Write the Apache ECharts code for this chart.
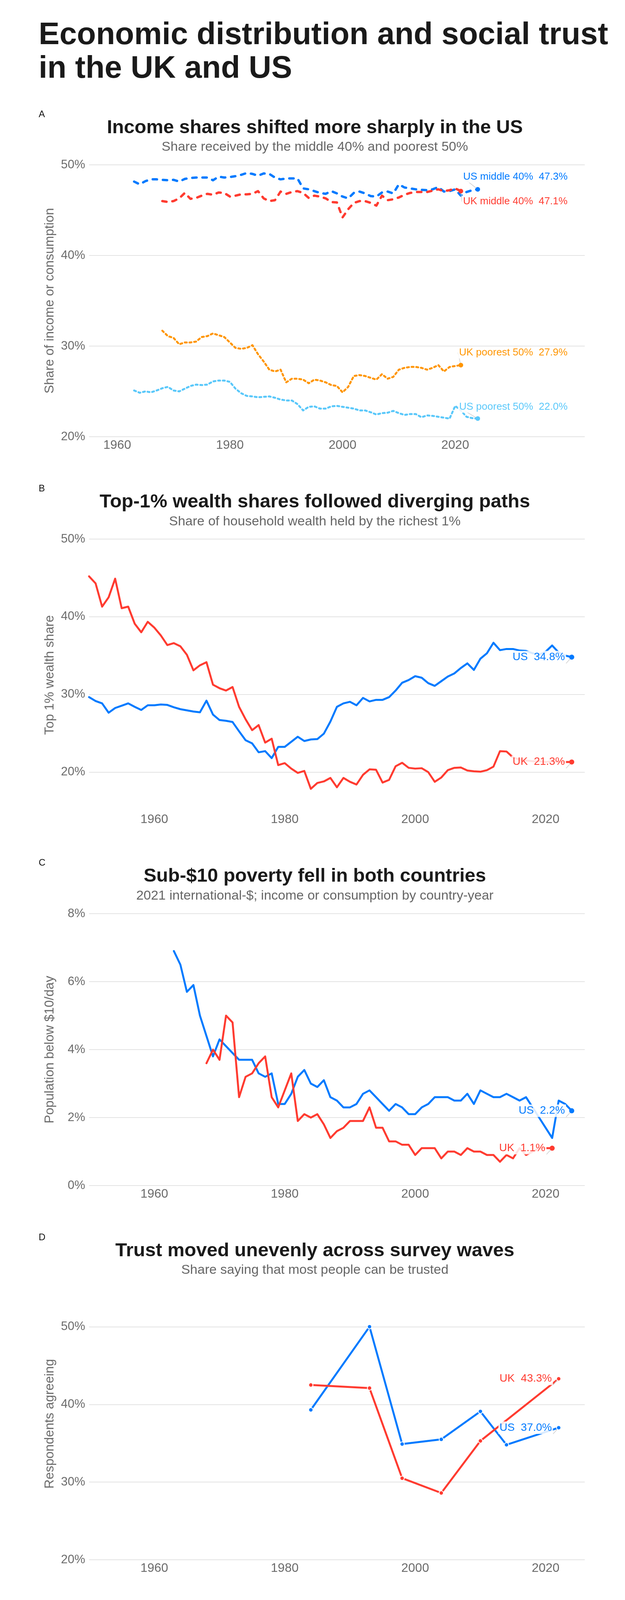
<!DOCTYPE html>
<html lang="en">
<head>
<meta charset="UTF-8">
<title>Economic distribution and social trust in the UK and US</title>
<style>
  html, body { margin: 0; padding: 0; background: #fff; }
  #chart { width: 1600px; height: 4200px; }
</style>
</head>
<body>
<div id="chart"></div>
<script src="https://cdn.jsdelivr.net/npm/echarts@6/dist/echarts.min.js"></script>
<script>
// ---- data ----
// A: income shares (%), annual
var usMiddleStart = 1963;
var usMiddle40 = [48.15, 47.85, 48.2, 48.4, 48.4, 48.35, 48.3, 48.35, 48.15, 48.45,
  48.55, 48.6, 48.6, 48.6, 48.3, 48.7, 48.6, 48.65, 48.75, 48.9,
  49.1, 49.0, 48.8, 49.05, 49.0, 48.6, 48.4, 48.5, 48.5, 48.5,
  47.4, 47.3, 47.1, 46.9, 46.8, 47.1, 46.85, 46.5, 46.3, 46.9,
  47.05, 46.85, 46.55, 46.5, 46.95, 47.05, 46.85, 47.85, 47.5, 47.4,
  47.3, 47.25, 47.2, 47.3, 47.55, 47.05, 47.1, 47.3, 46.6, 47.0,
  47.2, 47.3];
var ukMiddleStart = 1968;
var ukMiddle40 = [46.0, 45.9, 46.0, 46.3, 46.9, 46.25, 46.35, 46.6, 46.8, 46.7,
  46.95, 46.9, 46.5, 46.6, 46.75, 46.75, 46.8, 47.1, 46.3, 46.0,
  46.1, 47.05, 46.8, 47.0, 47.1, 46.9, 46.35, 46.6, 46.5, 46.3,
  45.9, 45.85, 44.2, 45.1, 45.8, 46.0, 46.0, 45.8, 45.5, 46.6,
  46.1, 46.2, 46.4, 46.7, 46.9, 47.0, 47.0, 47.0, 47.15, 47.3,
  47.1, 47.2, 47.4, 47.1];
var ukPoorestStart = 1968;
var ukPoorest50 = [31.7, 31.1, 30.9, 30.2, 30.4, 30.4, 30.5, 31.0, 31.1, 31.4,
  31.2, 31.0, 30.4, 29.8, 29.7, 29.8, 30.1, 29.1, 28.3, 27.4,
  27.2, 27.4, 26.0, 26.4, 26.4, 26.3, 25.9, 26.3, 26.2, 26.0,
  25.7, 25.6, 24.9, 25.5, 26.7, 26.8, 26.7, 26.5, 26.3, 26.9,
  26.4, 26.6, 27.4, 27.6, 27.7, 27.7, 27.6, 27.4, 27.6, 27.9,
  27.2, 27.7, 27.8, 27.9];
var usPoorestStart = 1963;
var usPoorest50 = [25.1, 24.85, 25.0, 24.9, 25.1, 25.35, 25.5, 25.1, 25.0, 25.3,
  25.6, 25.75, 25.7, 25.75, 26.1, 26.2, 26.2, 26.05, 25.3, 24.8,
  24.5, 24.45, 24.35, 24.4, 24.45, 24.3, 24.1, 24.0, 24.0, 23.6,
  22.9, 23.3, 23.35, 23.1, 23.1, 23.35, 23.4, 23.3, 23.2, 23.1,
  22.9, 22.9, 22.7, 22.45, 22.6, 22.65, 22.85, 22.6, 22.4, 22.5,
  22.5, 22.15, 22.35, 22.3, 22.2, 22.1, 22.0, 23.4, 22.9, 22.2,
  22.05, 22.0];

// B: top 1% wealth share (%), annual from 1950
var wealthStart = 1950;
var ukTop1 = [45.2, 44.3, 41.3, 42.5, 44.9, 41.1, 41.3, 39.1, 38.0, 39.35,
  38.6, 37.6, 36.35, 36.6, 36.2, 35.1, 33.1, 33.75, 34.15, 31.25,
  30.8, 30.5, 30.95, 28.4, 26.8, 25.4, 26.05, 23.8, 24.3, 20.9,
  21.15, 20.45, 19.9, 20.15, 17.85, 18.6, 18.8, 19.25, 18.05, 19.25,
  18.75, 18.4, 19.65, 20.35, 20.3, 18.65, 19.0, 20.75, 21.2, 20.55,
  20.45, 20.5, 20.0, 18.75, 19.3, 20.25, 20.55, 20.6, 20.2, 20.1,
  20.05, 20.25, 20.7, 22.7, 22.65, 21.9, 21.6, 21.5, 21.4, 21.4,
  21.3, 21.4, 21.3, 21.3, 21.3];
var usTop1 = [29.65, 29.15, 28.85, 27.65, 28.25, 28.55, 28.85, 28.4, 28.0, 28.6,
  28.6, 28.7, 28.65, 28.35, 28.1, 27.95, 27.8, 27.7, 29.2, 27.4,
  26.7, 26.6, 26.45, 25.25, 24.1, 23.7, 22.55, 22.7, 21.8, 23.25,
  23.25, 23.9, 24.55, 24.0, 24.2, 24.25, 24.95, 26.5, 28.4, 28.85,
  29.05, 28.6, 29.55, 29.1, 29.3, 29.3, 29.65, 30.5, 31.5, 31.85,
  32.35, 32.15, 31.45, 31.1, 31.7, 32.3, 32.7, 33.4, 34.0, 33.15,
  34.6, 35.3, 36.65, 35.7, 35.85, 35.85, 35.65, 35.6, 35.3, 35.1,
  35.5, 36.3, 35.4, 35.0, 34.8];

// C: population below $10/day (%), annual
var usPovStart = 1963;
var usPoverty = [6.9, 6.5, 5.7, 5.9, 5.0, 4.4, 3.8, 4.3, 4.1, 3.9,
  3.7, 3.7, 3.7, 3.3, 3.2, 3.3, 2.4, 2.4, 2.7, 3.2,
  3.4, 3.0, 2.9, 3.1, 2.6, 2.5, 2.3, 2.3, 2.4, 2.7,
  2.8, 2.6, 2.4, 2.2, 2.4, 2.3, 2.1, 2.1, 2.3, 2.4,
  2.6, 2.6, 2.6, 2.5, 2.5, 2.7, 2.4, 2.8, 2.7, 2.6,
  2.6, 2.7, 2.6, 2.5, 2.6, 2.3, 2.0, 1.7, 1.4, 2.5,
  2.4, 2.2];
var ukPovStart = 1968;
var ukPoverty = [3.6, 4.0, 3.7, 5.0, 4.8, 2.6, 3.2, 3.3, 3.6, 3.8,
  2.6, 2.3, 2.8, 3.3, 1.9, 2.1, 2.0, 2.1, 1.8, 1.4,
  1.6, 1.7, 1.9, 1.9, 1.9, 2.3, 1.7, 1.7, 1.3, 1.3,
  1.2, 1.2, 0.9, 1.1, 1.1, 1.1, 0.8, 1.0, 1.0, 0.9,
  1.1, 1.0, 1.0, 0.9, 0.9, 0.7, 0.9, 0.8, 1.1, 0.9,
  1.0, 1.1, 1.1, 1.1];

// D: trust survey waves (%)
var usTrustYears = [1984, 1993, 1998, 2004, 2010, 2014, 2022];
var usTrust = [39.3, 50.0, 34.9, 35.5, 39.1, 34.8, 37.0];
var ukTrustYears = [1984, 1993, 1998, 2004, 2010, 2022];
var ukTrust = [42.5, 42.1, 30.5, 28.6, 35.3, 43.3];

// ---- styling ----
var FONT = '"Liberation Sans", Arial, sans-serif';
var BLUE = '#007AFF', RED = '#FF3B30', ORANGE = '#FF9500', SKY = '#5AC8FA';
var GREY = '#6b6b6b', GRID = '#dadada';
var LEFT = 228, WIDTH = 1269, HEIGHT = 696;
var tops = [422, 1380, 2339, 3297];

function annual(start, vals) {
  return vals.map(function (v, i) { return [start + i, v]; });
}
function paired(years, vals) {
  return vals.map(function (v, i) { return [years[i], v]; });
}
function pct(v) { return v + '%'; }

// put the end dot + label on the last point
function endLabel(data, text, color, lab, size) {
  var last = data[data.length - 1];
  data[data.length - 1] = {
    value: last,
    symbol: 'circle',
    symbolSize: size || 13,
    label: Object.assign({
      show: true, formatter: text, color: color, fontFamily: FONT,
      backgroundColor: 'rgba(255,255,255,0.85)', padding: [2, 3]
    }, lab)
  };
  return data;
}
// label style used by panels A
function repel(dx, dy) {
  return { position: 'inside', align: 'right', verticalAlign: 'middle', offset: [dx, dy], fontSize: 26 };
}
var sideLabel = { position: 'left', distance: 8, fontSize: 28 };

function xAxisFor(i, min, max, interval) {
  return {
    type: 'value', gridIndex: i, min: min, max: max, interval: interval,
    axisLine: { show: false }, axisTick: { show: false }, splitLine: { show: false },
    axisLabel: {
      color: GREY, fontSize: 32, fontFamily: FONT, margin: 6,
      formatter: function (v) { return (v % 20 === 0 && v >= 1960 && v <= 2020) ? String(v) : ''; }
    }
  };
}
function yAxisFor(i, name, min, max, interval, lineColors, labelFn) {
  return {
    type: 'value', gridIndex: i, min: min, max: max, interval: interval,
    name: name, nameLocation: 'middle', nameGap: 84,
    nameTextStyle: { color: GREY, fontSize: 33, fontFamily: FONT },
    axisLine: { show: false }, axisTick: { show: false },
    splitLine: { show: true, lineStyle: { color: lineColors, width: 1.5 } },
    axisLabel: { color: GREY, fontSize: 31, fontFamily: FONT, margin: 10, formatter: labelFn }
  };
}
function lineSeries(i, data, color, width, dash) {
  return {
    type: 'line', xAxisIndex: i, yAxisIndex: i, data: data,
    symbol: 'none', showSymbol: true, silent: true,
    itemStyle: { color: color },
    lineStyle: { color: color, width: width, type: dash || 'solid', cap: 'round', join: 'round' },
    labelLine: { show: true, lineStyle: { color: '#cccccc', width: 1.5 } }
  };
}

var series = [
  // A
  lineSeries(0, endLabel(annual(usMiddleStart, usMiddle40), 'US middle 40%  47.3%', BLUE, repel(233, -32), 12), BLUE, 6, [11, 15]),
  lineSeries(0, endLabel(annual(ukMiddleStart, ukMiddle40), 'UK middle 40%  47.1%', RED, repel(276, 27), 12), RED, 6, [11, 15]),
  lineSeries(0, endLabel(annual(ukPoorestStart, ukPoorest50), 'UK poorest 50%  27.9%', ORANGE, repel(276, -32), 12), ORANGE, 5, [5, 7]),
  lineSeries(0, endLabel(annual(usPoorestStart, usPoorest50), 'US poorest 50%  22.0%', SKY, repel(233, -30), 12), SKY, 5, [5, 7]),
  // B
  lineSeries(1, endLabel(annual(wealthStart, usTop1), 'US  34.8%', BLUE, sideLabel), BLUE, 5),
  lineSeries(1, endLabel(annual(wealthStart, ukTop1), 'UK  21.3%', RED, sideLabel), RED, 5),
  // C
  lineSeries(2, endLabel(annual(usPovStart, usPoverty), 'US  2.2%', BLUE, sideLabel), BLUE, 5),
  lineSeries(2, endLabel(annual(ukPovStart, ukPoverty), 'UK  1.1%', RED, sideLabel), RED, 5)
];
// D: every wave gets a dot
[[usTrustYears, usTrust, BLUE, 'US  37.0%'], [ukTrustYears, ukTrust, RED, 'UK  43.3%']].forEach(function (d) {
  var s = lineSeries(3, endLabel(paired(d[0], d[1]), d[3], d[2], sideLabel, 11), d[2], 5);
  s.symbol = 'circle';
  s.symbolSize = 11;
  s.itemStyle = { color: d[2], borderColor: '#fff', borderWidth: 2 };
  series.push(s);
});

function txt(x, y, text, font, fill, align) {
  return {
    type: 'text', x: x, y: y, silent: true,
    style: { text: text, font: font, fill: fill, textAlign: align || 'left', align: align || 'left',
      textVerticalAlign: 'middle', verticalAlign: 'middle' }
  };
}
var TITLE_X = 806;
var graphics = [
  txt(99, 91, 'Economic distribution and social trust', 'bold 80px ' + FONT, '#1a1a1a'),
  txt(99, 177, 'in the UK and US', 'bold 80px ' + FONT, '#1a1a1a'),
  txt(99, 293, 'A', '24px ' + FONT, '#111'),
  txt(TITLE_X, 327, 'Income shares shifted more sharply in the US', 'bold 49px ' + FONT, '#1a1a1a', 'center'),
  txt(TITLE_X, 377, 'Share received by the middle 40% and poorest 50%', '34px ' + FONT, '#666', 'center'),
  txt(99, 1251, 'B', '24px ' + FONT, '#111'),
  txt(TITLE_X, 1285, 'Top-1% wealth shares followed diverging paths', 'bold 49px ' + FONT, '#1a1a1a', 'center'),
  txt(TITLE_X, 1336, 'Share of household wealth held by the richest 1%', '34px ' + FONT, '#666', 'center'),
  txt(99, 2209, 'C', '24px ' + FONT, '#111'),
  txt(TITLE_X, 2243, 'Sub-$10 poverty fell in both countries', 'bold 49px ' + FONT, '#1a1a1a', 'center'),
  txt(TITLE_X, 2294, '2021 international-$; income or consumption by country-year', '34px ' + FONT, '#666', 'center'),
  txt(99, 3168, 'D', '24px ' + FONT, '#111'),
  txt(TITLE_X, 3202, 'Trust moved unevenly across survey waves', 'bold 49px ' + FONT, '#1a1a1a', 'center'),
  txt(TITLE_X, 3252, 'Share saying that most people can be trusted', '34px ' + FONT, '#666', 'center'),
  txt(99, 4133, 'statsandsociety.substack.com', '33px ' + FONT, '#555')
];

var chart = echarts.init(document.getElementById('chart'));
chart.setOption({
  animation: false,
  backgroundColor: '#fff',
  textStyle: { fontFamily: FONT },
  grid: tops.map(function (t) { return { left: LEFT, width: WIDTH, top: t, height: HEIGHT }; }),
  xAxis: [
    xAxisFor(0, 1955, 2043, 5),
    xAxisFor(1, 1950, 2026, 10),
    xAxisFor(2, 1950, 2026, 10),
    xAxisFor(3, 1950, 2026, 10)
  ],
  yAxis: [
    yAxisFor(0, 'Share of income or consumption', 20, 50, 10, GRID, pct),
    yAxisFor(1, 'Top 1% wealth share', 15, 50, 5, ['transparent', GRID],
      function (v) { return v % 10 === 0 ? v + '%' : ''; }),
    yAxisFor(2, 'Population below $10/day', 0, 8, 2, GRID, pct),
    yAxisFor(3, 'Respondents agreeing', 20, 55, 5, [GRID, 'transparent'],
      function (v) { return v % 10 === 0 ? v + '%' : ''; })
  ],
  series: series,
  graphic: graphics
});
</script>
</body>
</html>
